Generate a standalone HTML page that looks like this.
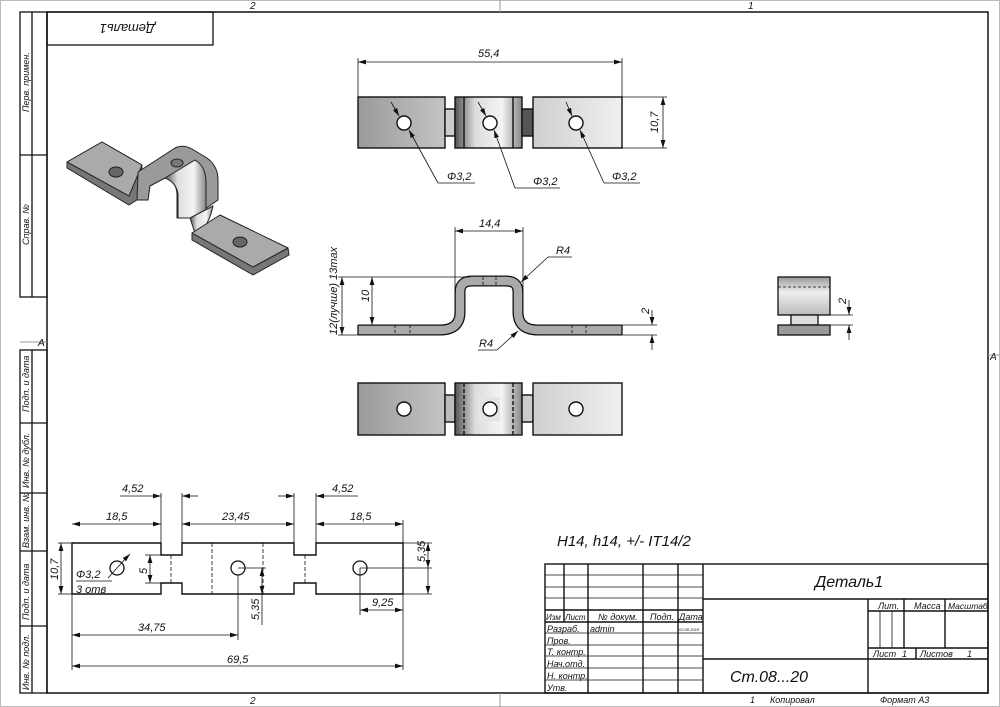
<!DOCTYPE html>
<html><head><meta charset="utf-8"><style>
html,body{margin:0;padding:0;background:#fff}
svg{display:block}
text{font-family:"Liberation Sans","DejaVu Sans",sans-serif;font-style:italic;fill:#111}
</style></head><body>
<svg width="1000" height="707" viewBox="0 0 1000 707" xmlns="http://www.w3.org/2000/svg">
<defs>
<marker id="a" viewBox="0 0 10 6" refX="10" refY="3" markerWidth="8" markerHeight="5" orient="auto-start-reverse" markerUnits="userSpaceOnUse"><path d="M0,0L10,3L0,6z" fill="#111"/></marker>
<linearGradient id="g1" x1="0" x2="1"><stop offset="0" stop-color="#9a9a9a"/><stop offset="1" stop-color="#c4c4c4"/></linearGradient>
<linearGradient id="g2" x1="0" x2="1"><stop offset="0" stop-color="#cfcfcf"/><stop offset="1" stop-color="#f0f0f0"/></linearGradient>
<linearGradient id="g3" x1="0" x2="1"><stop offset="0" stop-color="#555"/><stop offset=".3" stop-color="#ddd"/><stop offset=".7" stop-color="#f4f4f4"/><stop offset="1" stop-color="#888"/></linearGradient>
<linearGradient id="gv" x1="0" y1="0" x2="0" y2="1"><stop offset="0" stop-color="#999"/><stop offset=".4" stop-color="#eee"/><stop offset="1" stop-color="#bbb"/></linearGradient>
</defs>
<rect x="0.5" y="0.5" width="999" height="706" fill="#fff" stroke="#bbb"/>
<rect x="47" y="12" width="941" height="681" fill="none" stroke="#111" stroke-width="1.5"/>
<g stroke="#999" stroke-width="1">
<line x1="500" y1="0" x2="500" y2="12"/><line x1="500" y1="693" x2="500" y2="707"/>
<line x1="988" y1="355" x2="1000" y2="355"/><line x1="20" y1="342" x2="47" y2="342"/>
</g>
<g font-size="10">
<text x="250" y="9">2</text><text x="748" y="9">1</text>
<text x="250" y="704">2</text><text x="990" y="360">A</text><text x="38" y="346">A</text>
</g>
<g stroke="#111" stroke-width="1.3" fill="none">
<rect x="20" y="12" width="27" height="285"/><line x1="32" y1="12" x2="32" y2="297"/><line x1="20" y1="155" x2="47" y2="155"/>
<rect x="20" y="350" width="27" height="343"/><line x1="32" y1="350" x2="32" y2="693"/>
<line x1="20" y1="423" x2="47" y2="423"/><line x1="20" y1="493" x2="47" y2="493"/><line x1="20" y1="551" x2="47" y2="551"/><line x1="20" y1="626" x2="47" y2="626"/>
<rect x="47" y="12" width="166" height="33"/>
</g>
<g font-size="9">
<text transform="translate(29,112) rotate(-90)">Перв. примен.</text>
<text transform="translate(29,245) rotate(-90)">Справ. №</text>
<text transform="translate(29,412) rotate(-90)">Подп. и дата</text>
<text transform="translate(29,488) rotate(-90)">Инв. № дубл.</text>
<text transform="translate(29,548) rotate(-90)">Взам. инв. №</text>
<text transform="translate(29,620) rotate(-90)">Подп. и дата</text>
<text transform="translate(29,690) rotate(-90)">Инв. № подл.</text>
</g>
<text font-size="13" transform="translate(155,24) rotate(180)">Деталь1</text>

<!-- ISO view -->
<g stroke="#222" stroke-width="1" stroke-linejoin="round">
<polygon points="67,162 67,168 129,205 140,198 142,165 102,142" fill="#777"/>
<polygon points="67,162 102,142 142,165 129,196" fill="#aaa"/>
<path d="M138,172 L175,148 Q183,144 192,149 L207,158 Q218,166 218,180 L218,200 L192,218 L177,218 L177,194 Q176,180 165,178 L150,186 L148,200 L137,200 Z" fill="#9a9a9a"/>
<path d="M165,178 L195,160 Q205,166 206,180 L206,210 L192,218 L178,218 L178,194 Q176,182 165,178 Z" fill="url(#g3)"/>
<path d="M190,218 L213,206 Q210,220 204,228 L195,233 Z" fill="url(#g3)"/>
<polygon points="192,233 192,240 253,275 289,255 288,248 253,267" fill="#777"/>
<polygon points="192,233 220,215 288,248 253,267" fill="#aaa"/>
<ellipse cx="116" cy="172" rx="7" ry="5" fill="#666"/>
<ellipse cx="240" cy="242" rx="7" ry="5" fill="#666"/>
<ellipse cx="177" cy="163" rx="6" ry="4" fill="#777"/>
</g>

<!-- TOP view -->
<g stroke="#111" stroke-width="1.4">
<rect x="358" y="97" width="87" height="51" fill="url(#g1)"/>
<rect x="445" y="109" width="10" height="27" fill="#ccc"/>
<rect x="455" y="97" width="67" height="51" fill="url(#g3)"/>
<line x1="464" y1="97" x2="464" y2="148"/><line x1="513" y1="97" x2="513" y2="148"/>
<rect x="522" y="109" width="11" height="27" fill="#555"/>
<rect x="533" y="97" width="89" height="51" fill="url(#g2)"/>
<g fill="#fff"><circle cx="404" cy="123" r="7"/><circle cx="490" cy="123" r="7"/><circle cx="576" cy="123" r="7"/></g>
</g>
<g stroke="#111" stroke-width=".8" fill="none">
<line x1="358" y1="97" x2="358" y2="58"/><line x1="622" y1="97" x2="622" y2="58"/>
<line x1="358" y1="62" x2="622" y2="62" marker-start="url(#a)" marker-end="url(#a)"/>
<line x1="622" y1="97" x2="667" y2="97"/><line x1="622" y1="148" x2="667" y2="148"/>
<line x1="663" y1="97" x2="663" y2="148" marker-start="url(#a)" marker-end="url(#a)"/>
<line x1="391" y1="102" x2="399" y2="116" marker-end="url(#a)"/><line x1="438" y1="183" x2="409" y2="130" marker-end="url(#a)"/><polyline points="438,183 475,183"/>
<line x1="478" y1="102" x2="486" y2="116" marker-end="url(#a)"/><line x1="515" y1="188" x2="494" y2="130" marker-end="url(#a)"/><polyline points="515,188 560,188"/>
<line x1="566" y1="102" x2="572" y2="116" marker-end="url(#a)"/><line x1="604" y1="183" x2="580" y2="130" marker-end="url(#a)"/><polyline points="604,183 640,183"/>
</g>
<g font-size="11"><text x="478" y="57">55,4</text><text transform="translate(658,133) rotate(-90)">10,7</text>
<text x="447" y="180">Φ3,2</text><text x="533" y="185">Φ3,2</text><text x="612" y="180">Φ3,2</text></g>

<!-- FRONT view -->
<path d="M358,330 H440 Q460,330 460,312 V292 Q460,281 472,281 H506 Q518,281 518,292 V312 Q518,330 538,330 H622" fill="none" stroke="#111" stroke-width="11"/>
<path d="M358,330 H440 Q460,330 460,312 V292 Q460,281 472,281 H506 Q518,281 518,292 V312 Q518,330 538,330 H622" fill="none" stroke="#aaa" stroke-width="8.4"/>
<g stroke="#111" stroke-width=".8" fill="none">
<line x1="358" y1="325" x2="358" y2="335" stroke-width="1.3"/><line x1="622" y1="325" x2="622" y2="335" stroke-width="1.3"/>
<g stroke-dasharray="3,2"><line x1="395" y1="325" x2="395" y2="335"/><line x1="410" y1="325" x2="410" y2="335"/><line x1="572" y1="325" x2="572" y2="335"/><line x1="586" y1="325" x2="586" y2="335"/><line x1="483" y1="277" x2="483" y2="285"/><line x1="496" y1="277" x2="496" y2="285"/></g>
<line x1="455" y1="300" x2="455" y2="227"/><line x1="523" y1="300" x2="523" y2="227"/>
<line x1="455" y1="231" x2="523" y2="231" marker-start="url(#a)" marker-end="url(#a)"/>
<line x1="338" y1="277" x2="470" y2="277"/><line x1="338" y1="335" x2="358" y2="335"/>
<line x1="372" y1="277" x2="372" y2="325" marker-start="url(#a)" marker-end="url(#a)"/>
<line x1="342" y1="277" x2="342" y2="335" marker-start="url(#a)" marker-end="url(#a)"/>
<polyline points="548,257 572,257"/><line x1="548" y1="257" x2="521" y2="282" marker-end="url(#a)"/>
<polyline points="497,350 478,350"/><line x1="497" y1="350" x2="518" y2="331" marker-end="url(#a)"/>
<line x1="622" y1="325" x2="657" y2="325"/><line x1="622" y1="335" x2="657" y2="335"/>
<line x1="652" y1="310" x2="652" y2="325" marker-end="url(#a)"/><line x1="652" y1="350" x2="652" y2="335" marker-end="url(#a)"/>
</g>
<g font-size="11"><text x="479" y="227">14,4</text><text x="556" y="254">R4</text><text x="479" y="347">R4</text>
<text transform="translate(369,302) rotate(-90)">10</text>
<text transform="translate(337,335) rotate(-90)">12(лучше) 13max</text>
<text transform="translate(649,314) rotate(-90)">2</text></g>

<!-- side view -->
<g stroke="#111" stroke-width="1.3">
<rect x="778" y="277" width="52" height="38" fill="url(#gv)"/>
<rect x="791" y="315" width="27" height="10" fill="#ddd"/>
<rect x="778" y="325" width="52" height="10" fill="#999"/>
</g>
<g stroke="#111" stroke-width=".8" fill="none">
<line x1="778" y1="287" x2="830" y2="287" stroke-dasharray="3,2"/>
<line x1="830" y1="315" x2="853" y2="315"/><line x1="830" y1="325" x2="853" y2="325"/>
<line x1="849" y1="300" x2="849" y2="315" marker-end="url(#a)"/><line x1="849" y1="340" x2="849" y2="325" marker-end="url(#a)"/>
</g>
<text font-size="11" transform="translate(846,304) rotate(-90)">2</text>

<!-- BOTTOM view -->
<g stroke="#111" stroke-width="1.4">
<rect x="358" y="383" width="87" height="52" fill="url(#g1)"/>
<rect x="445" y="395" width="10" height="27" fill="#bbb"/>
<rect x="455" y="383" width="67" height="52" fill="url(#g3)"/>
<rect x="478" y="397" width="22" height="24" fill="#e4e4e4" stroke="none"/>
<line x1="464" y1="383" x2="464" y2="435" stroke-dasharray="4,2"/><line x1="513" y1="383" x2="513" y2="435" stroke-dasharray="4,2"/>
<rect x="522" y="395" width="11" height="27" fill="#ccc"/>
<rect x="533" y="383" width="89" height="52" fill="url(#g2)"/>
<g fill="#fff"><circle cx="404" cy="409" r="7"/><circle cx="490" cy="409" r="7"/><circle cx="576" cy="409" r="7"/></g>
</g>

<!-- FLAT pattern -->
<path d="M72,543 H161 V555 H182 V543 H294 V555 H316 V543 H403 V594 H316 V583 H294 V594 H182 V583 H161 V594 H72 Z" fill="#fff" stroke="#111" stroke-width="1.4"/>
<g stroke="#111" stroke-width=".8" fill="none">
<g stroke-dasharray="4,2"><line x1="171" y1="555" x2="171" y2="583"/><line x1="305" y1="555" x2="305" y2="583"/><line x1="212" y1="543" x2="212" y2="594"/><line x1="263" y1="543" x2="263" y2="594"/></g>
<circle cx="117" cy="568" r="7" stroke-width="1.3"/><circle cx="238" cy="568" r="7" stroke-width="1.3"/><circle cx="360" cy="568" r="7" stroke-width="1.3"/>
<line x1="161" y1="543" x2="161" y2="493"/><line x1="182" y1="543" x2="182" y2="493"/>
<line x1="294" y1="543" x2="294" y2="493"/><line x1="316" y1="543" x2="316" y2="493"/>
<line x1="120" y1="496" x2="161" y2="496" marker-end="url(#a)"/><line x1="198" y1="496" x2="182" y2="496" marker-end="url(#a)"/>
<line x1="278" y1="496" x2="294" y2="496" marker-end="url(#a)"/><line x1="358" y1="496" x2="316" y2="496" marker-end="url(#a)"/>
<line x1="72" y1="543" x2="72" y2="670"/><line x1="403" y1="543" x2="403" y2="670"/>
<line x1="72" y1="524" x2="161" y2="524" marker-start="url(#a)" marker-end="url(#a)"/>
<line x1="182" y1="524" x2="294" y2="524" marker-start="url(#a)" marker-end="url(#a)"/>
<line x1="316" y1="524" x2="403" y2="524" marker-start="url(#a)" marker-end="url(#a)"/>
<line x1="403" y1="520" x2="403" y2="543"/>
<line x1="58" y1="543" x2="72" y2="543"/><line x1="58" y1="594" x2="72" y2="594"/>
<line x1="61" y1="543" x2="61" y2="594" marker-start="url(#a)" marker-end="url(#a)"/>
<line x1="145" y1="555" x2="161" y2="555"/><line x1="145" y1="583" x2="161" y2="583"/>
<line x1="150" y1="555" x2="150" y2="583" marker-start="url(#a)" marker-end="url(#a)"/>
<line x1="403" y1="543" x2="432" y2="543"/><line x1="403" y1="594" x2="432" y2="594"/><line x1="360" y1="568" x2="432" y2="568"/>
<line x1="428" y1="543" x2="428" y2="568" marker-start="url(#a)" marker-end="url(#a)"/>
<line x1="428" y1="568" x2="428" y2="594" marker-end="url(#a)"/>
<line x1="238" y1="568" x2="266" y2="568"/>
<line x1="262" y1="568" x2="262" y2="594" marker-start="url(#a)" marker-end="url(#a)"/><line x1="262" y1="594" x2="262" y2="625"/>
<line x1="360" y1="568" x2="360" y2="615"/><line x1="238" y1="575" x2="238" y2="640"/>
<line x1="360" y1="610" x2="403" y2="610" marker-start="url(#a)" marker-end="url(#a)"/>
<line x1="72" y1="635" x2="238" y2="635" marker-start="url(#a)" marker-end="url(#a)"/>
<line x1="72" y1="666" x2="403" y2="666" marker-start="url(#a)" marker-end="url(#a)"/>
<line x1="108" y1="578" x2="126" y2="558"/><line x1="126" y1="558" x2="130" y2="554" marker-end="url(#a)"/>
<line x1="76" y1="581" x2="112" y2="581"/>
</g>
<g font-size="11">
<text x="122" y="492">4,52</text><text x="332" y="492">4,52</text>
<text x="106" y="520">18,5</text><text x="222" y="520">23,45</text><text x="350" y="520">18,5</text>
<text transform="translate(58,580) rotate(-90)">10,7</text><text transform="translate(147,574) rotate(-90)">5</text>
<text transform="translate(425,562) rotate(-90)">5,35</text><text transform="translate(259,620) rotate(-90)">5,35</text>
<text x="372" y="606">9,25</text><text x="138" y="631">34,75</text><text x="227" y="663">69,5</text>
<text x="76" y="578">Φ3,2</text><text x="76" y="593">3 отв</text>
</g>
<text x="557" y="546" font-size="15">H14, h14, +/- IT14/2</text>

<!-- Title block -->
<g stroke="#111" stroke-width="1.4" fill="none">
<rect x="545" y="564" width="443" height="129"/>
<line x1="703" y1="564" x2="703" y2="693"/>
<line x1="564" y1="564" x2="564" y2="622"/><line x1="588" y1="564" x2="588" y2="693"/>
<line x1="643" y1="564" x2="643" y2="693"/><line x1="678" y1="564" x2="678" y2="693"/>
<line x1="545" y1="610" x2="703" y2="610"/><line x1="545" y1="622" x2="703" y2="622"/>
<line x1="703" y1="599" x2="988" y2="599"/><line x1="703" y1="659" x2="988" y2="659"/>
<line x1="868" y1="599" x2="868" y2="693"/>
<line x1="868" y1="611" x2="988" y2="611"/><line x1="868" y1="648" x2="988" y2="648"/>
<line x1="904" y1="599" x2="904" y2="648"/><line x1="945" y1="599" x2="945" y2="648"/>
<line x1="916" y1="648" x2="916" y2="659"/>
</g>
<g stroke="#111" stroke-width=".8">
<line x1="545" y1="575" x2="703" y2="575"/><line x1="545" y1="587" x2="703" y2="587"/><line x1="545" y1="598" x2="703" y2="598"/>
<line x1="545" y1="633" x2="703" y2="633"/><line x1="545" y1="645" x2="703" y2="645"/><line x1="545" y1="656" x2="703" y2="656"/>
<line x1="545" y1="668" x2="703" y2="668"/><line x1="545" y1="680" x2="703" y2="680"/>
<line x1="880" y1="611" x2="880" y2="648"/><line x1="892" y1="611" x2="892" y2="648"/>
</g>
<g font-size="9">
<text x="546" y="620" font-size="8">Изм</text><text x="565" y="620" font-size="8">Лист</text><text x="598" y="620">№ докум.</text><text x="650" y="620">Подп.</text><text x="679" y="620">Дата</text>
<text x="547" y="632">Разраб.</text><text x="590" y="632">admin</text><text x="679" y="631" font-size="4">02.08.2018</text>
<text x="547" y="644">Пров.</text><text x="547" y="655">Т. контр.</text><text x="547" y="667">Нач.отд.</text><text x="547" y="679">Н. контр.</text><text x="547" y="691">Утв.</text>
<text x="878" y="609">Лит.</text><text x="914" y="609">Масса</text><text x="948" y="609" font-size="8.5">Масштаб</text>
<text x="873" y="657">Лист</text><text x="902" y="657">1</text><text x="920" y="657">Листов</text><text x="967" y="657">1</text>
<text x="750" y="703">1</text><text x="770" y="703">Копировал</text><text x="880" y="703">Формат А3</text>
</g>
<text x="815" y="587" font-size="16">Деталь1</text>
<text x="730" y="682" font-size="16">Ст.08...20</text>
</svg>
</body></html>
